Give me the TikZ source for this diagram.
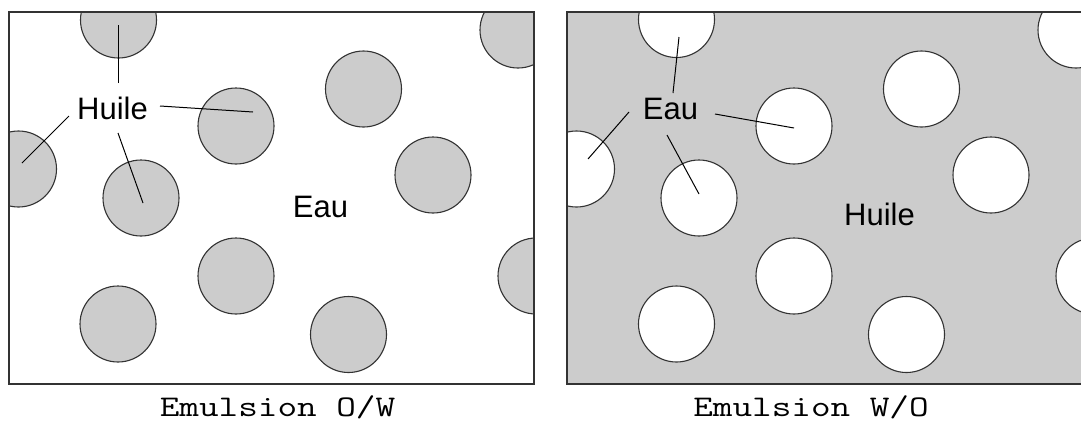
\documentclass[tikz,border=0pt]{standalone}
\usepackage{fontspec}
\setmainfont{Liberation Sans}
\newfontfamily\capfont[FakeStretch=1.27]{Latin Modern Mono}
\definecolor{oil}{HTML}{CCCCCC}
\definecolor{edgec}{HTML}{333333}
\begin{document}
\begin{tikzpicture}[x=1pt,y=-1pt,
  drop/.style={circle,draw=edgec,line width=1.1pt,minimum size=76pt,inner sep=0pt,outer sep=0pt},
  oildrop/.style={drop,fill=oil},
  waterdrop/.style={drop,fill=white},
  leader/.style={draw=black,line width=1pt},
  lbl/.style={font=\fontsize{31}{36}\selectfont,inner sep=0pt,anchor=base,text=black},
  captxt/.style={font=\capfont\fontsize{30}{34}\selectfont,inner sep=0pt,anchor=base,text=black},
  frame/.style={draw=edgec,line width=1.3pt}]

\path[use as bounding box] (0,0) rectangle (1081,421);
\clip (0,0) rectangle (1081,421);

% ---------- left panel: oil in water ----------
\fill[white] (9,12) rectangle (534,384);
\begin{scope}
  \clip (9,12) rectangle (534,384);
  \foreach \n/\x/\y in {1/118.5/20, 2/518/30, 3/363.5/89, 4/236/126, 5/18.5/169,
                        6/141/198, 7/433/175, 8/236/276, 9/118/324, 10/348.5/334.5, 11/536/276}
    \node[oildrop] (L\n) at (\x,\y) {};
\end{scope}
\draw[frame] (9,12) rectangle (534,384);

\node[lbl] (huileL) at (112.5,119) {Huile};
\node[lbl] (eauL) at (320.5,217) {Eau};

\coordinate (la1) at (118,83);  \coordinate (lb1) at (118,25);
\coordinate (la2) at (69,116);  \coordinate (lb2) at (22,163);
\coordinate (la3) at (160,106); \coordinate (lb3) at (253,112);
\coordinate (la4) at (118,133); \coordinate (lb4) at (143,203);
\draw[leader] (la1) -- (lb1);
\draw[leader] (la2) -- (lb2);
\draw[leader] (la3) -- (lb3);
\draw[leader] (la4) -- (lb4);

\node[captxt] (capL) at (277.5,416) {Emulsion O/W};

% ---------- right panel: water in oil ----------
\fill[oil] (567,12) rectangle (1092,384);
\begin{scope}
  \clip (567,12) rectangle (1092,384);
  \foreach \n/\x/\y in {1/676.5/19.5, 2/1076/30, 3/921.5/89, 4/794/126, 5/576.5/169,
                        6/699/198, 7/991/175, 8/794/276, 9/676.5/324, 10/906.5/334.5, 11/1094/276}
    \node[waterdrop] (R\n) at (\x,\y) {};
\end{scope}
\draw[frame] (567,12) rectangle (1092,384);

\node[lbl] (eauR) at (670.5,119) {Eau};
\node[lbl] (huileR) at (879.5,225) {Huile};

\coordinate (ra1) at (673,93);  \coordinate (rb1) at (679,37);
\coordinate (ra2) at (629,112); \coordinate (rb2) at (588,159);
\coordinate (ra3) at (715,114); \coordinate (rb3) at (794,128);
\coordinate (ra4) at (667,135); \coordinate (rb4) at (699,194);
\draw[leader] (ra1) -- (rb1);
\draw[leader] (ra2) -- (rb2);
\draw[leader] (ra3) -- (rb3);
\draw[leader] (ra4) -- (rb4);

\node[captxt] (capR) at (811,416) {Emulsion W/O};
\end{tikzpicture}
\end{document}
